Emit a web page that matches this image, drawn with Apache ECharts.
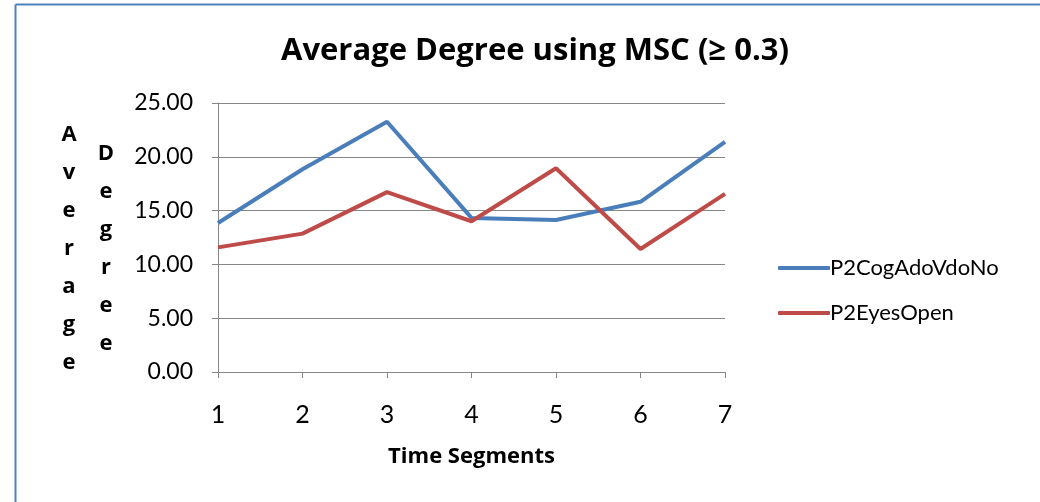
<!DOCTYPE html>
<html>
<head>
<meta charset="utf-8">
<script src="https://cdn.jsdelivr.net/npm/echarts@6/dist/echarts.min.js"></script>
<style>
html,body{margin:0;padding:0;background:#fff;}
#chart{width:1040px;height:502px;}
</style>
</head>
<body>
<div id="chart"></div>
<script>
const categories = ['1','2','3','4','5','6','7'];
const seriesNames = ['P2CogAdoVdoNo','P2EyesOpen'];
const blueValues = [13.85, 18.84, 23.26, 14.32, 14.13, 15.82, 21.39];
const redValues = [11.58, 12.86, 16.72, 14.01, 18.93, 11.43, 16.56];
const titleText = 'Average Degree using MSC (\u2265 0.3)';
const xAxisName = 'Time Segments';
const yNameCol1 = 'Average';
const yNameCol2 = 'Degree';

const FONT = 'Lato';
const BFONT = 'Open Sans';
const chart = echarts.init(document.getElementById('chart'), null, {renderer:'canvas'});
chart.setOption({
  backgroundColor:'#ffffff',
  animation:false,
  title:{
    text:titleText, left:530, textAlign:'center', top:31,
    textStyle:{fontFamily:BFONT, fontWeight:'bold', fontSize:31, color:'#000'}
  },
  grid:{left:218, right:315, top:103, bottom:130, containLabel:false},
  legend:{
    orient:'vertical', left:773, top:252, itemWidth:52, itemHeight:4, itemGap:23,
    icon:'roundRect',
    textStyle:{fontFamily:FONT, fontSize:22, color:'#000', padding:[0,0,0,-5]},
    data:seriesNames
  },
  xAxis:{
    type:'category', data:categories, boundaryGap:false,
    name:xAxisName, nameLocation:'middle', nameGap:74,
    nameTextStyle:{fontFamily:BFONT, fontWeight:'bold', fontSize:22, color:'#000'},
    axisLine:{lineStyle:{color:'#868686', width:1}},
    axisTick:{show:true, length:6, lineStyle:{color:'#868686'}},
    axisLabel:{fontFamily:FONT, fontSize:25, color:'#000', margin:30},
    splitLine:{show:false}
  },
  yAxis:{
    type:'value', min:0, max:25, interval:5,
    axisLine:{show:true, lineStyle:{color:'#868686', width:1}},
    axisTick:{show:true, length:6, lineStyle:{color:'#868686'}},
    axisLabel:{fontFamily:FONT, fontSize:23, color:'#000', margin:25,
      formatter:function(v){return v.toFixed(2);}},
    splitLine:{show:true, lineStyle:{color:'#868686', width:1}}
  },
  series:[
    {name:seriesNames[0], type:'line', data:blueValues, symbol:'none',
     lineStyle:{color:'#4A7EBB', width:4}, itemStyle:{color:'#4A7EBB'}},
    {name:seriesNames[1], type:'line', data:redValues, symbol:'none',
     lineStyle:{color:'#BE4B48', width:4}, itemStyle:{color:'#BE4B48'}}
  ],
  graphic:[
    {type:'line', shape:{x1:15.5, y1:4.5, x2:1040, y2:4.5}, style:{stroke:'#4F81BD', lineWidth:2}, silent:true},
    {type:'line', shape:{x1:15.5, y1:4.5, x2:15.5, y2:502}, style:{stroke:'#4F81BD', lineWidth:2}, silent:true},
    {type:'text', x:69, y:249, style:{text:yNameCol1.split('').join('\n'), fontFamily:BFONT, fontWeight:'bold', fontSize:22, lineHeight:38, fill:'#000', align:'center', verticalAlign:'middle'}},
    {type:'text', x:106, y:249, style:{text:yNameCol2.split('').join('\n'), fontFamily:BFONT, fontWeight:'bold', fontSize:22, lineHeight:38, fill:'#000', align:'center', verticalAlign:'middle'}}
  ]
});
</script>
</body>
</html>
